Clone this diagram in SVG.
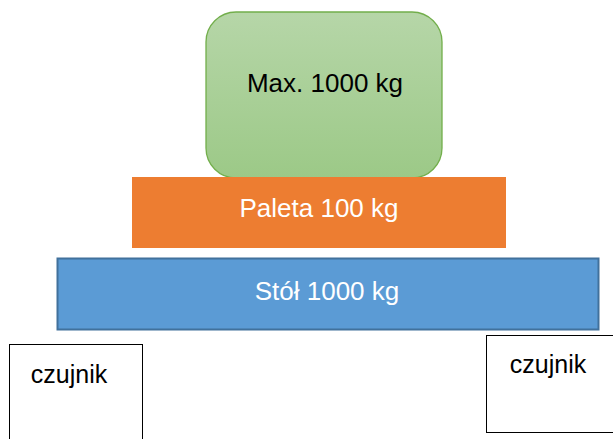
<svg xmlns="http://www.w3.org/2000/svg" width="613" height="439" viewBox="0 0 613 439">
<style>
text{font-family:"Liberation Sans",Arial,sans-serif;text-anchor:middle}
.big{font-size:26px}
.w{fill:#ffffff}
.k{fill:#000000}
.sensor{fill:#ffffff;stroke:#000000;stroke-width:1}
.sl{font-size:25px}
</style>
<defs>
<linearGradient id="g" x1="0" y1="0" x2="0" y2="1">
<stop offset="0" stop-color="#B6D6A8"/>
<stop offset="1" stop-color="#9CC987"/>
</linearGradient>
</defs>
<g id="load">
<rect x="206" y="12" width="236" height="166" rx="30" ry="30" fill="url(#g)" stroke="#72AE4B" stroke-width="1.3"/>
<text class="big k" x="325" y="92">Max. 1000 kg</text>
</g>
<g id="pallet">
<rect x="132" y="177" width="374" height="71" fill="#ED7D31"/>
<text class="big w" x="319" y="217">Paleta 100 kg</text>
</g>
<g id="table">
<rect x="57.5" y="258.5" width="541" height="71" fill="#5B9BD5" stroke="#41719C" stroke-width="2"/>
<text class="big w" x="327" y="300">Stół 1000 kg</text>
</g>
<g id="sensor-left">
<rect class="sensor" x="9.5" y="344.5" width="133" height="100"/>
<text class="sl k" x="69" y="383">czujnik</text>
</g>
<g id="sensor-right">
<rect class="sensor" x="486.5" y="335.5" width="130" height="97"/>
<text class="sl k" x="548" y="373">czujnik</text>
</g>
<g id="connectors"/>
</svg>
